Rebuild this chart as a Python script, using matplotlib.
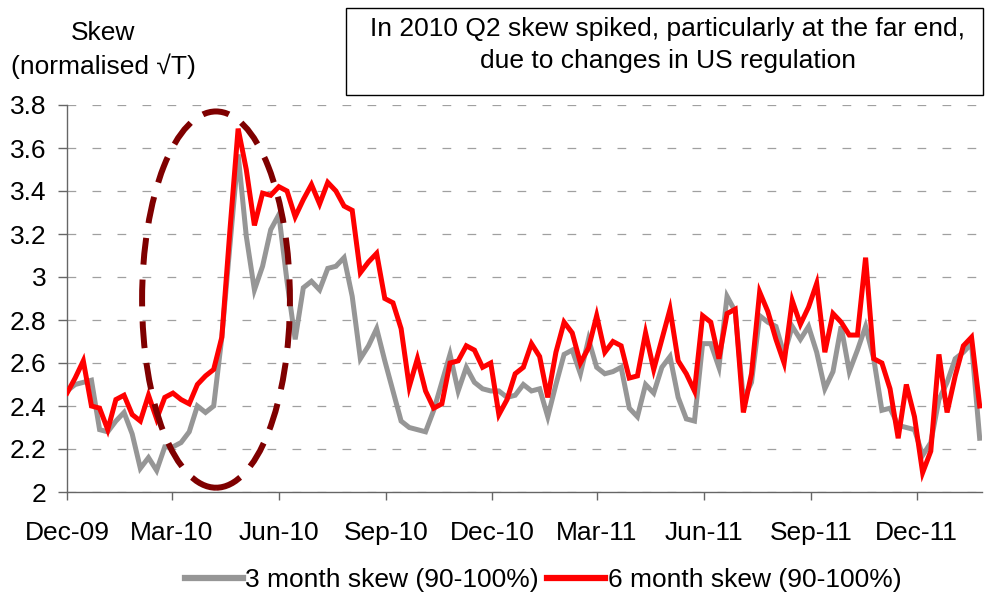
import matplotlib
matplotlib.use('Agg')
import matplotlib.pyplot as plt
import matplotlib.dates as mdates
from matplotlib.patches import Ellipse, Rectangle
from matplotlib.lines import Line2D
from matplotlib.ticker import FuncFormatter
import pandas as pd

plt.rcParams['font.family'] = ['Liberation Sans', 'DejaVu Sans']
plt.rcParams['font.size'] = 19

# weekly observations, Dec 2009 - Jan 2012
start_date = '2009-12-01'
n_weeks = 113

skew_3m = [
    2.47, 2.50, 2.51, 2.52, 2.29, 2.28, 2.33, 2.37, 2.27, 2.11,
    2.16, 2.10, 2.21, 2.21, 2.23, 2.28, 2.40, 2.37, 2.40, 2.72,
    3.15, 3.57, 3.19, 2.94, 3.05, 3.22, 3.29, 2.98, 2.71, 2.95,
    2.98, 2.94, 3.04, 3.05, 3.09, 2.91, 2.62, 2.68, 2.76, 2.61,
    2.47, 2.33, 2.30, 2.29, 2.28, 2.38, 2.51, 2.64, 2.47, 2.58,
    2.51, 2.48, 2.47, 2.47, 2.44, 2.45, 2.50, 2.47, 2.48, 2.35,
    2.50, 2.64, 2.66, 2.55, 2.71, 2.58, 2.55, 2.56, 2.58, 2.39,
    2.35, 2.50, 2.46, 2.58, 2.63, 2.44, 2.34, 2.33, 2.69, 2.69,
    2.58, 2.91, 2.84, 2.43, 2.51, 2.82, 2.79, 2.77, 2.64, 2.77,
    2.71, 2.77, 2.65, 2.48, 2.56, 2.77, 2.56, 2.66, 2.77, 2.62,
    2.38, 2.39, 2.31, 2.30, 2.29, 2.17, 2.23, 2.43, 2.51, 2.62,
    2.65, 2.69, 2.25,
]

skew_6m = [
    2.46, 2.53, 2.61, 2.40, 2.39, 2.29, 2.43, 2.45, 2.36, 2.33,
    2.45, 2.34, 2.44, 2.46, 2.43, 2.41, 2.50, 2.54, 2.57, 2.72,
    3.22, 3.69, 3.50, 3.24, 3.39, 3.38, 3.42, 3.40, 3.28, 3.36,
    3.43, 3.34, 3.44, 3.40, 3.33, 3.31, 3.02, 3.07, 3.11, 2.90,
    2.88, 2.76, 2.49, 2.62, 2.47, 2.39, 2.41, 2.60, 2.61, 2.68,
    2.66, 2.58, 2.60, 2.36, 2.43, 2.55, 2.58, 2.69, 2.63, 2.44,
    2.65, 2.79, 2.74, 2.60, 2.67, 2.82, 2.65, 2.70, 2.68, 2.53,
    2.54, 2.74, 2.57, 2.71, 2.85, 2.61, 2.55, 2.47, 2.82, 2.79,
    2.62, 2.83, 2.85, 2.37, 2.55, 2.93, 2.84, 2.71, 2.60, 2.89,
    2.78, 2.86, 2.97, 2.65, 2.83, 2.79, 2.73, 2.73, 3.09, 2.62,
    2.60, 2.48, 2.25, 2.50, 2.35, 2.09, 2.19, 2.64, 2.37, 2.54,
    2.68, 2.72, 2.40,
]

series_labels = ['3 month skew (90-100%)', '6 month skew (90-100%)']
y_ticks = [2.0, 2.2, 2.4, 2.6, 2.8, 3.0, 3.2, 3.4, 3.6, 3.8]
note = 'In 2010 Q2 skew spiked, particularly at the far end,\ndue to changes in US regulation'

dates = pd.date_range(start_date, periods=n_weeks, freq='7D')
df = pd.DataFrame({'3m': skew_3m, '6m': skew_6m}, index=dates)

W, H = 985, 595
fig = plt.figure(figsize=(W / 100, H / 100), dpi=100)
ax = fig.add_axes([67 / W, 1 - 492 / H, (982 - 67) / W, (492 - 105) / H])

gray = '#969696'
red = '#ff0000'
ax.plot(df.index, df['3m'], color=gray, lw=3.6, solid_joinstyle='miter', zorder=3)
ax.plot(df.index, df['6m'], color=red, lw=3.6, solid_joinstyle='miter', zorder=4)

ax.set_ylim(2, 3.8)
ax.set_xlim(df.index[0], df.index[-1] + pd.Timedelta(days=2))
ax.set_yticks(y_ticks)
ax.yaxis.set_major_formatter(FuncFormatter(lambda v, p: '%g' % round(v, 1)))
ax.yaxis.grid(True, color='#a0a0a0', linewidth=0.9, linestyle=(0, (7, 13)))
ax.set_axisbelow(True)

ax.xaxis.set_major_locator(mdates.MonthLocator(bymonth=[3, 6, 9, 12]))
ax.xaxis.set_major_formatter(mdates.DateFormatter('%b-%y'))

for side in ['top', 'right']:
    ax.spines[side].set_visible(False)
for side in ['left', 'bottom']:
    ax.spines[side].set_color('#666666')
    ax.spines[side].set_linewidth(1.0)
ax.tick_params(axis='y', direction='out', length=6.5, width=1, color='#666666', pad=8.5, labelsize=19)
ax.tick_params(axis='x', direction='out', length=6, width=1, color='#666666', pad=15, labelsize=19)

# dashed ring around the Q2 2010 spike
cx = mdates.date2num(pd.Timestamp('2010-04-08'))
ring = Ellipse((cx, 2.895), width=127, height=1.75, fill=False,
               edgecolor='#7f0000', lw=4.3, linestyle=(0, (4.5, 2.5)),
               zorder=5, clip_on=False)
ax.add_patch(ring)

# axis title top-left
fig.text(103 / W, 1 - 40 / H, 'Skew', ha='center', va='baseline', fontsize=19)
fig.text(103 / W, 1 - 74 / H, '(normalised \u221aT)', ha='center', va='baseline', fontsize=19)

# annotation box
fig.add_artist(Rectangle((346 / W, 1 - 95 / H), (983 - 346) / W, (95 - 8) / H,
                         transform=fig.transFigure, fill=False, ec='black', lw=1.0))
lines = note.split('\n')
fig.text(668 / W, 1 - 36 / H, lines[0], ha='center', va='baseline', fontsize=19)
fig.text(668 / W, 1 - 68 / H, lines[1], ha='center', va='baseline', fontsize=19)

handles = [Line2D([], [], color=gray, lw=4.5), Line2D([], [], color=red, lw=4.5)]
fig.legend(handles, series_labels, loc='center', bbox_to_anchor=(543 / W, 1 - 580 / H),
           ncol=2, frameon=False, fontsize=19, handlelength=2.2, handletextpad=0.1,
           columnspacing=0.3, borderpad=0, borderaxespad=0)

fig.savefig('out.png', dpi=100)
